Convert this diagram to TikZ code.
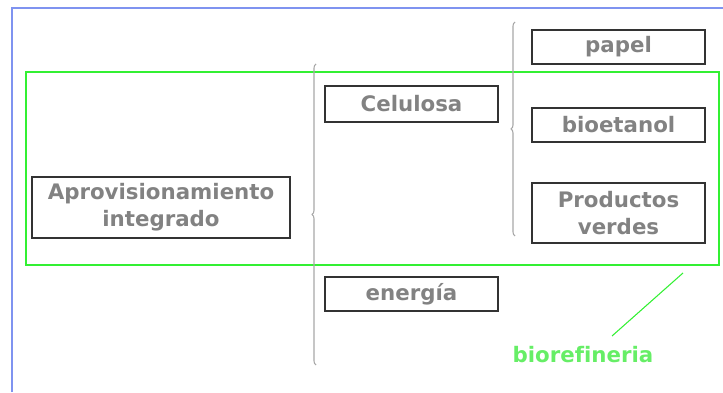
\documentclass[tikz,border=0pt]{standalone}
\usepackage{fontspec}
\setmainfont{DejaVu Sans}[Ligatures=CommonOff]
\usetikzlibrary{decorations.pathreplacing}
\definecolor{txtgray}{HTML}{828282}
\definecolor{boxgray}{HTML}{333333}
\definecolor{bracegray}{HTML}{A8A8A8}
\definecolor{framegreen}{HTML}{33F033}
\definecolor{labelgreen}{HTML}{66EE66}
\definecolor{pageblue}{HTML}{7F93F0}
\begin{document}
\begin{tikzpicture}[x=0.75pt, y=0.75pt,
        box/.style={draw=boxgray, line width=1pt, text=txtgray, font=\bfseries\fontsize{16}{20}\selectfont, align=center, inner sep=0pt, minimum width=129.75pt, minimum height=25.5pt},
        brc/.style={draw=bracegray, line width=0.8pt, decorate, decoration={brace, amplitude=3pt}}]
        \useasboundingbox (0,0) rectangle (723,392);
        \draw[pageblue, line width=1pt] (12,0)--(12,384)--(723,384);
        \draw[framegreen, line width=0.8pt] (26,127) rectangle (719,320);
        \node[box, minimum width=193.5pt, minimum height=45.75pt] (aprov) at (161,184.5){Aprovisionamiento\\integrado};
        \node[box, minimum height=27pt] (celulosa) at (411.5,288){Celulosa};
        \node[box] (energia) at (411.5,98){energía};
        \node[box] (papel) at (618.5,345){papel};
        \node[box] (bioetanol) at (618.5,267){bioetanol};
        \node[box, minimum height=45pt] (productos) at (618.5,179){Productos\\verdes};
        \coordinate (b1bot) at (316,27);
        \coordinate (b1top) at (316,328);
        \draw[brc] (b1bot)--(b1top);
        \coordinate (b2bot) at (515,156);
        \coordinate (b2top) at (515,370);
        \draw[brc] (b2bot)--(b2top);
        \node[text=labelgreen, font=\bfseries\fontsize{16}{20}\selectfont] (bio) at (583,37){biorefineria};
        \coordinate (gtop) at (683,119);
        \coordinate (gbot) at (612,56);
        \draw[framegreen, line width=0.8pt] (gtop)--(gbot);
\end{tikzpicture}
\end{document}
